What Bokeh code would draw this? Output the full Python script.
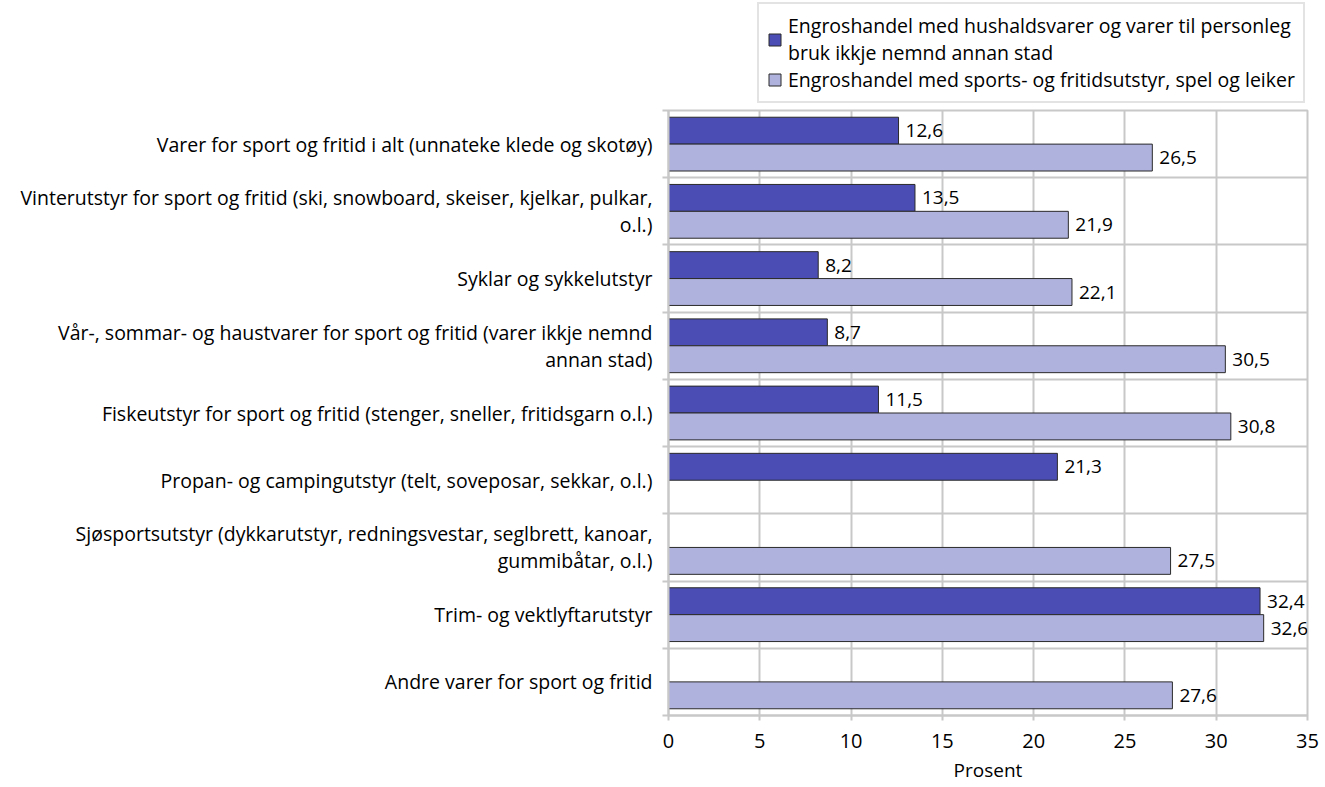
from bokeh.plotting import figure
from bokeh.layouts import column
from bokeh.models import ColumnDataSource, Range1d, FixedTicker, Legend, LegendItem
from bokeh.embed import file_html
from bokeh.resources import INLINE
from bokeh.core.properties import value

categories = [
    "Varer for sport og fritid i alt (unnateke klede og skotøy)",
    "Vinterutstyr for sport og fritid (ski, snowboard, skeiser, kjelkar, pulkar,\no.l.)",
    "Syklar og sykkelutstyr",
    "Vår-, sommar- og haustvarer for sport og fritid (varer ikkje nemnd\nannan stad)",
    "Fiskeutstyr for sport og fritid (stenger, sneller, fritidsgarn o.l.)",
    "Propan- og campingutstyr (telt, soveposar, sekkar, o.l.)",
    "Sjøsportsutstyr (dykkarutstyr, redningsvestar, seglbrett, kanoar,\ngummibåtar, o.l.)",
    "Trim- og vektlyftarutstyr",
    "Andre varer for sport og fritid",
]
series_names = [
    "Engroshandel med hushaldsvarer og varer til personleg\nbruk ikkje nemnd annan stad",
    "Engroshandel med sports- og fritidsutstyr, spel og leiker",
]
hushald = [12.6, 13.5, 8.2, 8.7, 11.5, 21.3, None, 32.4, None]
sport = [26.5, 21.9, 22.1, 30.5, 30.8, None, 27.5, 32.6, 27.6]
x_ticks = [0, 5, 10, 15, 20, 25, 30, 35]
x_label = "Prosent"

colors = ["#4b4db5", "#b0b2de"]
FONT = "Open Sans"
GRID = "#c8c8c8"
n = len(categories)
centers = [i + 0.5 for i in range(n)]


def build_source(vals, offset):
    xs, ys, labels = [], [], []
    for i, v in enumerate(vals):
        if v is None:
            continue
        xs.append(v)
        ys.append(centers[i] + offset)
        labels.append(f"{v:.1f}".replace(".", ","))
    return ColumnDataSource(dict(x=xs, y=ys, label=labels))


# ---------- main chart ----------
p = figure(
    width=1325, height=679,
    x_range=Range1d(0, 35), y_range=Range1d(n, 0),
    output_backend="svg", toolbar_location=None,
    min_border_left=668, min_border_right=18, min_border_top=2, min_border_bottom=72,
)
p.background_fill_color = "white"
p.border_fill_color = "white"
p.outline_line_color = GRID
p.outline_line_width = 2

p.xgrid.ticker = FixedTicker(ticks=x_ticks)
p.xgrid.grid_line_color = GRID
p.xgrid.grid_line_width = 2
p.ygrid.ticker = FixedTicker(ticks=list(range(n + 1)))
p.ygrid.grid_line_color = GRID
p.ygrid.grid_line_width = 2

p.xaxis.ticker = FixedTicker(ticks=x_ticks)
p.xaxis.axis_label = x_label
p.xaxis.axis_label_text_font = FONT
p.xaxis.axis_label_text_font_size = "19px"
p.xaxis.axis_label_text_font_style = "normal"
p.xaxis.axis_label_text_color = "#000000"
p.xaxis.axis_label_standoff = 6
p.xaxis.major_label_text_font = FONT
p.xaxis.major_label_text_font_size = "20px"
p.xaxis.major_label_text_color = "#000000"
p.xaxis.major_label_standoff = 13
p.xaxis.axis_line_color = GRID
p.xaxis.axis_line_width = 2
p.xaxis.major_tick_line_color = GRID
p.xaxis.major_tick_line_width = 2
p.xaxis.major_tick_in = 0
p.xaxis.major_tick_out = 5
p.xaxis.minor_tick_line_color = None

p.yaxis.ticker = FixedTicker(ticks=centers, minor_ticks=list(range(n + 1)))
p.yaxis.major_label_overrides = {c: categories[i] for i, c in enumerate(centers)}
p.yaxis.major_label_text_font = FONT
p.yaxis.major_label_text_font_size = "19.5px"
p.yaxis.major_label_text_color = "#000000"
p.yaxis.major_label_text_line_height = 1.0
p.yaxis.major_label_standoff = 10
p.yaxis.major_tick_line_color = None
p.yaxis.minor_tick_line_color = GRID
p.yaxis.minor_tick_line_width = 2
p.yaxis.minor_tick_in = 0
p.yaxis.minor_tick_out = 6
p.yaxis.axis_line_color = GRID
p.yaxis.axis_line_width = 2

offsets = [-0.2, 0.2]
sources = []
for vals, off, col in zip([hushald, sport], offsets, colors):
    src = build_source(vals, off)
    sources.append(src)
    p.hbar(y="y", right="x", left=0, height=0.4, source=src,
           fill_color=col, line_color="#2a2a2a", line_width=1)
    p.text(x="x", y="y", text="label", source=src, x_offset=7,
           text_baseline="middle", text_align="left",
           text_font=value(FONT), text_font_size="19px", text_color="#000000")

# ---------- legend strip (same frame columns as the chart) ----------
lg = figure(
    width=1325, height=108,
    x_range=Range1d(1000, 1001), y_range=Range1d(1000, 1001),
    output_backend="svg", toolbar_location=None,
    min_border_left=668, min_border_right=18, min_border_top=0, min_border_bottom=0,
)
lg.axis.visible = False
lg.grid.visible = False
lg.outline_line_color = None
lg.background_fill_color = "white"
lg.border_fill_color = "white"
legend_renderers = []
for src, col in zip(sources, colors):
    r = lg.hbar(y="y", right="x", left=0, height=0.4, source=src,
                fill_color=col, line_color="#2a2a2a", line_width=1)
    legend_renderers.append(r)

legend = Legend(
    items=[LegendItem(label=series_names[i], renderers=[legend_renderers[i]]) for i in range(2)],
    location=(89, 5),
    orientation="vertical",
    label_text_font=FONT, label_text_font_size="19.5px", label_text_color="#000000",
    label_text_line_height=1.0,
    border_line_color=GRID, border_line_width=2,
    background_fill_color="white", background_fill_alpha=1,
    glyph_width=15, glyph_height=15, label_standoff=6, label_height=20,
    padding=8, spacing=0, margin=0,
)
lg.add_layout(legend, "center")

layout = column(lg, p, spacing=0)
open("out.html", "w").write(file_html(layout, INLINE))
